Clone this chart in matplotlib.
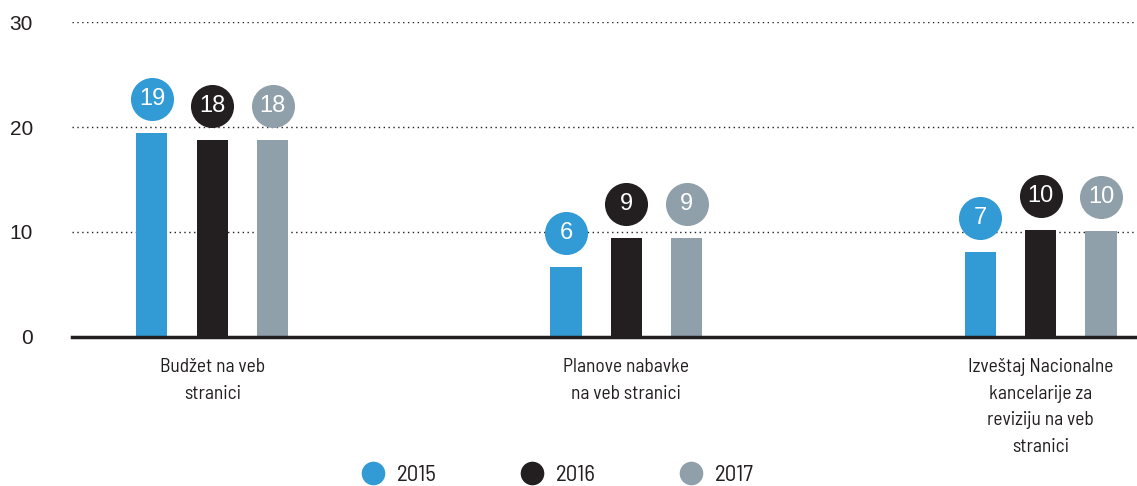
import matplotlib
matplotlib.use("Agg")
import matplotlib.pyplot as plt
from matplotlib.lines import Line2D
from matplotlib.transforms import ScaledTranslation
import numpy as np

categories = ["Budžet na veb\nstranici", "Planove nabavke\nna veb stranici",
              "Izveštaj Nacionalne\nkancelarije za\nreviziju na veb\nstranici"]
years = ["2015", "2016", "2017"]
values = {
    "2015": [19.4, 6.65, 8.1],
    "2016": [18.8, 9.4, 10.2],
    "2017": [18.8, 9.4, 10.1],
}
labels = {
    "2015": ["19", "6", "7"],
    "2016": ["18", "9", "10"],
    "2017": ["18", "9", "10"],
}
colors = {"2015": "#329bd6", "2016": "#231f20", "2017": "#90a0aa"}
yticks = [0, 10, 20, 30]

narrow = ["Barlow Semi Condensed", "DejaVu Sans"]
plain = ["Liberation Sans", "Arimo", "DejaVu Sans"]

fig = plt.figure(figsize=(11.37, 4.86), dpi=100)
ax = fig.add_axes([0.0633, 0.307, 0.9367, 0.647])

x = np.arange(len(categories))
offset = 0.146
width = 0.075
for i, yr in enumerate(years):
    xs = x + (i - 1) * offset
    ax.bar(xs, values[yr], width=width, color=colors[yr], zorder=3)
    tr = ax.transData + ScaledTranslation(0, 34 / 100, fig.dpi_scale_trans)
    ax.plot(xs, values[yr], "o", markersize=31, color=colors[yr],
            markeredgewidth=0, transform=tr, zorder=4, clip_on=False)
    for xi, v, lab in zip(xs, values[yr], labels[yr]):
        ax.text(xi, v, lab, transform=tr, ha="center", va="center",
                color="white", fontsize=17, family=plain, zorder=5)

ax.set_xlim(-0.339, 2.233)
ax.set_ylim(0, 30)
ax.set_yticks(yticks)
ax.set_yticklabels([str(t) for t in yticks], family=plain, fontsize=15,
                   color="#231f20")
ax.tick_params(axis="y", length=0, pad=28)
ax.set_xticks(x)
ax.set_xticklabels(categories, family=narrow, fontsize=14, color="#231f20",
                   linespacing=1.6)
ax.tick_params(axis="x", length=0, pad=15.5)
for t in yticks[1:]:
    ax.axhline(t, color="#231f20", linestyle=(0, (1, 2.5)), linewidth=1,
               zorder=1)
for s in ["top", "right", "left"]:
    ax.spines[s].set_visible(False)
ax.spines["bottom"].set_linewidth(2.5)
ax.spines["bottom"].set_color("#231f20")
ax.spines["bottom"].set_zorder(6)

handles = [Line2D([], [], marker="o", linestyle="", markersize=17,
                  markeredgewidth=0, color=colors[yr]) for yr in years]
leg = fig.legend(handles, years, loc="center left",
                 bbox_to_anchor=(359 / 1137, 1 - 475 / 486), ncol=3,
                 frameon=False, handlelength=1.2, handletextpad=0.45,
                 columnspacing=3.55, borderpad=0, borderaxespad=0,
                 prop={"family": narrow, "size": 16.5})
for t in leg.get_texts():
    t.set_color("#231f20")

fig.savefig("out.png", dpi=100)
